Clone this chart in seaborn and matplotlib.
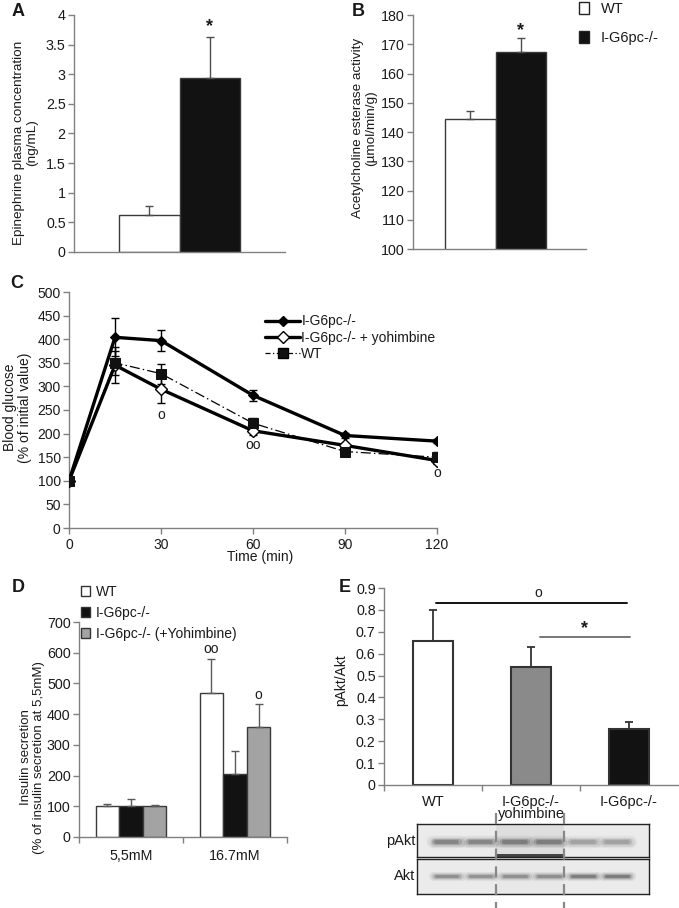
import numpy as np
import pandas as pd
import matplotlib
matplotlib.use("Agg")
import matplotlib.pyplot as plt
import seaborn as sns
from matplotlib.patches import Patch
from matplotlib.lines import Line2D
from matplotlib.ticker import FormatStrFormatter, FixedLocator
from matplotlib.container import BarContainer
import matplotlib.transforms as mtransforms

# ---------------- data ----------------
# Panel A
a_groups = ["WT", "I-G6pc-/-"]
a_values = [0.62, 2.93]
a_errors = [0.15, 0.70]

# Panel B
b_groups = ["WT", "I-G6pc-/-"]
b_values = [144.5, 167.3]
b_errors = [2.7, 5.0]

# Panel C
c_time = [0, 15, 30, 60, 90, 120]
c_ko = [100, 404, 397, 281, 196, 184]
c_ko_err = [0, 40, 23, 12, 6, 4]
c_yoh = [100, 345, 294, 206, 175, 143]
c_yoh_err = [0, 38, 29, 8, 6, 8]
c_wt = [100, 350, 327, 222, 162, 150]
c_wt_err = [0, 25, 21, 12, 5, 11]

# Panel D
d_conditions = ["5,5mM", "16.7mM"]
d_groups = ["WT", "I-G6pc-/-", "I-G6pc-/- (+Yohimbine)"]
d_wt = [102, 470]
d_wt_err = [6, 110]
d_ko = [102, 205]
d_ko_err = [23, 74]
d_yoh = [102, 358]
d_yoh_err = [3, 75]

# Panel E
e_groups = ["WT", "I-G6pc-/-\nyohimbine", "I-G6pc-/-"]
e_values = [0.66, 0.54, 0.255]
e_errors = [0.14, 0.09, 0.035]

# Western blot lanes
blot_lanes = [1, 2, 3, 4, 5, 6]
pakt_intensity = [0.72, 0.70, 0.76, 0.76, 0.45, 0.45]
akt_intensity = [0.62, 0.58, 0.6, 0.62, 0.78, 0.8]

# ---------------- style ----------------
sns.set_theme(style="white")
plt.rcParams["font.family"] = ["Liberation Sans", "DejaVu Sans"]
TXT = "#1a1a1a"
AXC = "#808080"

W, H = 679, 908
fig = plt.figure(figsize=(W / 100, H / 100), dpi=100)


def rect(l, t, r, b):
    return [l / W, 1 - b / H, (r - l) / W, (b - t) / H]


def style(ax, fs=10):
    for s in ["top", "right"]:
        ax.spines[s].set_visible(False)
    for s in ["left", "bottom"]:
        ax.spines[s].set_color(AXC)
        ax.spines[s].set_linewidth(1.0)
    ax.tick_params(axis="y", which="both", direction="out", length=4, width=1,
                   color=AXC, labelsize=fs, labelcolor=TXT, pad=2, left=True)
    ax.tick_params(axis="x", labelsize=fs, labelcolor=TXT)


def bar_containers(ax):
    return [c for c in list(ax.containers) if isinstance(c, BarContainer)]


def add_err(ax, errs, color="#4d4d4d", lw=1.0, cap=3):
    conts = bar_containers(ax)
    for ci, cont in enumerate(conts):
        ev = errs[ci]
        for bi, bar in enumerate(cont):
            e = ev[bi] if isinstance(ev, (list, tuple)) else ev
            x = bar.get_x() + bar.get_width() / 2
            y = bar.get_height()
            ax.errorbar(x, y, yerr=[[0], [e]], fmt="none", ecolor=color,
                        elinewidth=lw, capsize=cap, capthick=lw, zorder=1)


def letter(x, y, s):
    fig.text(x / W, 1 - y / H, s, fontsize=13, fontweight="bold", color=TXT,
             ha="left", va="center")


# ---------------- Panel A ----------------
axA = fig.add_axes(rect(74, 15, 285, 252))
dfA = pd.DataFrame({"cat": ["x", "x"], "group": a_groups, "value": a_values})
sns.barplot(data=dfA, x="cat", y="value", hue="group", hue_order=a_groups,
            palette={"WT": "white", "I-G6pc-/-": "#121212"}, width=0.57,
            saturation=1, edgecolor="#3a3a3a", linewidth=1, errorbar=None,
            legend=False, ax=axA)
add_err(axA, a_errors)
axA.set_xlim(-0.5, 0.5)
axA.set_ylim(0, 4)
axA.set_yticks(np.arange(0, 4.01, 0.5))
axA.yaxis.set_major_formatter(FormatStrFormatter("%g"))
axA.set_xticks([])
axA.set_xlabel("")
style(axA, 10.3)
axA.set_ylabel("Epinephrine plasma concentration\n(ng/mL)", fontsize=9.7,
               color=TXT, linespacing=1.1)
axA.yaxis.set_label_coords(-0.17, 0.46)
bk = bar_containers(axA)[1][0]
axA.text(bk.get_x() + bk.get_width() / 2, 3.80, "*", ha="center", va="center",
         fontsize=13, fontweight="bold", color=TXT)
letter(12, 12, "A")

# ---------------- Panel B ----------------
axB = fig.add_axes(rect(413, 15, 586, 249))
dfB = pd.DataFrame({"cat": ["x", "x"], "group": b_groups, "value": b_values})
sns.barplot(data=dfB, x="cat", y="value", hue="group", hue_order=b_groups,
            palette={"WT": "white", "I-G6pc-/-": "#121212"}, width=0.584,
            saturation=1, edgecolor="#3a3a3a", linewidth=1, errorbar=None,
            legend=False, ax=axB)
add_err(axB, b_errors)
axB.set_xlim(-0.477, 0.523)
axB.set_ylim(100, 180)
axB.set_yticks(np.arange(100, 181, 10))
axB.set_xticks([])
axB.set_xlabel("")
style(axB, 10.3)
axB.set_ylabel("Acetylcholine esterase activity\n(\u00b5mol/min/g)", fontsize=9.7,
               color=TXT, linespacing=1.1)
axB.yaxis.set_label_coords(-0.208, 0.517)
bk = bar_containers(axB)[1][0]
axB.text(bk.get_x() + bk.get_width() / 2, 174.5, "*", ha="center", va="center",
         fontsize=13, fontweight="bold", color=TXT)
letter(352, 12, "B")
handlesB = [Patch(facecolor="white", edgecolor="#222", linewidth=1),
            Patch(facecolor="#121212", edgecolor="#222", linewidth=1)]
fig.legend(handlesB, b_groups, loc="upper left",
           bbox_to_anchor=(579 / W, 1 - 2 / H), frameon=False, fontsize=10.5,
           handlelength=0.7, handleheight=0.9, handletextpad=0.8,
           labelspacing=1.0, borderpad=0, borderaxespad=0, labelcolor=TXT)

# ---------------- Panel C ----------------
axC = fig.add_axes(rect(69, 292, 437, 528))
sns.lineplot(x=c_time, y=c_ko, marker="D", markersize=5.5, color="black",
             linewidth=2.4, markerfacecolor="black", markeredgecolor="black",
             errorbar=None, ax=axC, zorder=3)
sns.lineplot(x=c_time, y=c_yoh, marker="D", markersize=6, color="black",
             linewidth=2.4, markerfacecolor="white", markeredgecolor="black",
             markeredgewidth=1, errorbar=None, ax=axC, zorder=3)
sns.lineplot(x=c_time, y=c_wt, marker="s", markersize=7.5, color="black",
             linewidth=0.9, linestyle=(0, (8, 2.5, 1.2, 2.5)),
             markerfacecolor="#111111", markeredgecolor="#111111",
             errorbar=None, ax=axC, zorder=4)
for vals, errs in [(c_ko, c_ko_err), (c_yoh, c_yoh_err), (c_wt, c_wt_err)]:
    t = np.array(c_time)
    v = np.array(vals)
    e = np.array(errs)
    m = e > 0
    axC.errorbar(t[m], v[m], yerr=e[m], fmt="none", ecolor="black",
                 elinewidth=1, capsize=3, capthick=1, zorder=2)
axC.set_xlim(0, 120)
axC.set_ylim(0, 500)
axC.set_xticks([0, 30, 60, 90, 120])
axC.set_yticks(np.arange(0, 501, 50))
style(axC, 10)
axC.tick_params(axis="x", direction="out", length=4, width=1, color=AXC,
                bottom=True, pad=3)
axC.set_xlabel("Time (min)", fontsize=10, color=TXT)
axC.xaxis.set_label_coords(0.52, -0.095)
axC.set_ylabel("Blood glucose\n(% of initial value)", fontsize=10, color=TXT,
               linespacing=1.1)
axC.yaxis.set_label_coords(-0.10, 0.51)
for tx, ty, s in [(30, 240, "o"), (60, 175, "oo"), (120, 116, "o")]:
    axC.text(tx, ty, s, ha="center", va="center", fontsize=10, color=TXT)
handlesC = [
    Line2D([], [], color="black", lw=2.4, marker="D", markersize=5.5,
           markerfacecolor="black"),
    Line2D([], [], color="black", lw=2.4, marker="D", markersize=6,
           markerfacecolor="white", markeredgecolor="black"),
    Line2D([], [], color="black", lw=0.9, linestyle=(0, (4, 2, 1, 2)),
           marker="s", markersize=7.5, markerfacecolor="#111111"),
]
axC.legend(handlesC, ["I-G6pc-/-", "I-G6pc-/- + yohimbine", "WT"],
           loc="upper left", bbox_to_anchor=(0.533, 0.905), frameon=False,
           fontsize=10, handlelength=2.5, handletextpad=0.1, labelspacing=0.15,
           borderpad=0, borderaxespad=0, labelcolor=TXT)
letter(10, 284, "C")

# ---------------- Panel D ----------------
axD = fig.add_axes(rect(79, 622, 287, 837))
dfD = pd.DataFrame({
    "condition": d_conditions * 3,
    "group": [d_groups[0]] * 2 + [d_groups[1]] * 2 + [d_groups[2]] * 2,
    "value": d_wt + d_ko + d_yoh,
})
paletteD = {d_groups[0]: "white", d_groups[1]: "#121212", d_groups[2]: "#a3a3a3"}
sns.barplot(data=dfD, x="condition", y="value", hue="group", order=d_conditions,
            hue_order=d_groups, palette=paletteD, width=0.68, saturation=1,
            edgecolor="#3a3a3a", linewidth=1, errorbar=None, legend=False, ax=axD)
add_err(axD, [d_wt_err, d_ko_err, d_yoh_err], color="#5a5a5a")
axD.set_xlim(-0.5, 1.5)
axD.set_ylim(0, 700)
axD.set_yticks(np.arange(0, 701, 100))
axD.set_xlabel("")
style(axD, 10.3)
axD.xaxis.set_minor_locator(FixedLocator([-0.5, 0.5, 1.5]))
axD.tick_params(axis="x", which="minor", direction="out", length=4, width=1,
                color=AXC, bottom=True)
axD.tick_params(axis="x", which="major", length=0, pad=9)
axD.set_ylabel("Insulin secretion\n(% of insulin secretion at 5,5mM)",
               fontsize=9.5, color=TXT, linespacing=1.1)
axD.yaxis.set_label_coords(-0.163, 0.37)
bcD = bar_containers(axD)
wt16 = bcD[0][1]
yo16 = bcD[2][1]
axD.text(wt16.get_x() + wt16.get_width() / 2, 612, "oo", ha="center",
         va="center", fontsize=10, color=TXT)
axD.text(yo16.get_x() + yo16.get_width() / 2, 463, "o", ha="center",
         va="center", fontsize=10, color=TXT)
handlesD = [Patch(facecolor=paletteD[g], edgecolor="#333", linewidth=1)
            for g in d_groups]
fig.legend(handlesD, d_groups, loc="upper left",
           bbox_to_anchor=(81 / W, 1 - 585 / H), frameon=False, fontsize=10,
           handlelength=0.65, handleheight=0.8, handletextpad=0.4,
           labelspacing=0.5, borderpad=0, borderaxespad=0, labelcolor=TXT)
letter(12, 588, "D")

# ---------------- Panel E ----------------
axE = fig.add_axes(rect(384, 588, 678, 785))
paletteE = {e_groups[0]: "white", e_groups[1]: "#8a8a8a", e_groups[2]: "#121212"}
sns.barplot(x=e_groups, y=e_values, hue=e_groups, hue_order=e_groups,
            palette=paletteE, width=0.41, saturation=1, edgecolor="#333333",
            linewidth=1.5, errorbar=None, legend=False, ax=axE)
add_err(axE, e_errors, color="#333333", lw=1.3)
axE.set_xlim(-0.5, 2.5)
axE.set_ylim(0, 0.9)
axE.set_yticks(np.arange(0, 0.91, 0.1))
axE.yaxis.set_major_formatter(FormatStrFormatter("%g"))
style(axE, 10.3)
axE.xaxis.set_minor_locator(FixedLocator([-0.5, 0.5, 1.5]))
axE.tick_params(axis="x", which="minor", direction="out", length=4, width=1,
                color=AXC, bottom=True)
axE.tick_params(axis="x", which="major", length=0, pad=7, labelsize=10.5)
for lab in axE.get_xticklabels():
    lab.set_linespacing(0.88)
axE.set_ylabel("pAkt/Akt", fontsize=10, color=TXT)
axE.yaxis.set_label_coords(-0.122, 0.53)
axE.plot([0.03, 1.98], [0.83, 0.83], color="#111111", lw=1.4, clip_on=False)
axE.text(1.07, 0.877, "o", ha="center", va="center", fontsize=10, color=TXT)
axE.plot([1.09, 2.01], [0.676, 0.676], color="#777777", lw=1.4, clip_on=False)
axE.text(1.55, 0.715, "*", ha="center", va="center", fontsize=13,
         fontweight="bold", color=TXT)
letter(339, 588, "E")


# ---------------- Western blot ----------------
def blot(rect_px, intens, yband, label, mid_shade, thick):
    ax = fig.add_axes(rect(*rect_px))
    ax.set_facecolor("#ebebeb")
    ax.set_xlim(0.12, 6.94)
    ax.set_ylim(0, 1)
    ax.axvspan(2.44, 4.44, color=mid_shade, zorder=0, lw=0)
    for lane, it in zip(blot_lanes, intens):
        g = 1 - it
        col = (0.2 + 0.6 * g, 0.2 + 0.6 * g, 0.2 + 0.6 * g)
        for k, (lw, a, half) in enumerate([(thick * 2.2, 0.10, 0.40),
                                           (thick * 1.6, 0.18, 0.38),
                                           (thick * 1.1, 0.30, 0.35),
                                           (thick * 0.7, 0.45, 0.31)]):
            ax.plot([lane - half, lane + half], [yband, yband], color=col,
                    lw=lw, alpha=a, solid_capstyle="round", zorder=2 + k)
    ax.set_xticks([])
    ax.set_yticks([])
    for s in ax.spines.values():
        s.set_visible(True)
        s.set_color("#222222")
        s.set_linewidth(1.0)
    ax.text(-0.008, 0.5, label, transform=ax.transAxes, ha="right",
            va="center", fontsize=10.5, color=TXT)
    return ax


bp = blot((417, 824, 649, 857), pakt_intensity, 0.45, "pAkt", "#dedede", 4.0)
bp.axhspan(0, 0.08, xmin=(2.44 - 0.12) / 6.82, xmax=(4.44 - 0.12) / 6.82,
           color="#444444", lw=0, zorder=1)
ba = blot((417, 859, 649, 894), akt_intensity, 0.52, "Akt", "#e8e8e8", 3.0)
trans = mtransforms.blended_transform_factory(ba.transData, fig.transFigure)
for xd in [2.44, 4.44]:
    ba.plot([xd, xd], [1 - 813 / H, 0], transform=trans, color="#888888",
            lw=1.6, linestyle=(0, (5, 3)), clip_on=False, zorder=5)

fig.savefig("out.png", dpi=100)
